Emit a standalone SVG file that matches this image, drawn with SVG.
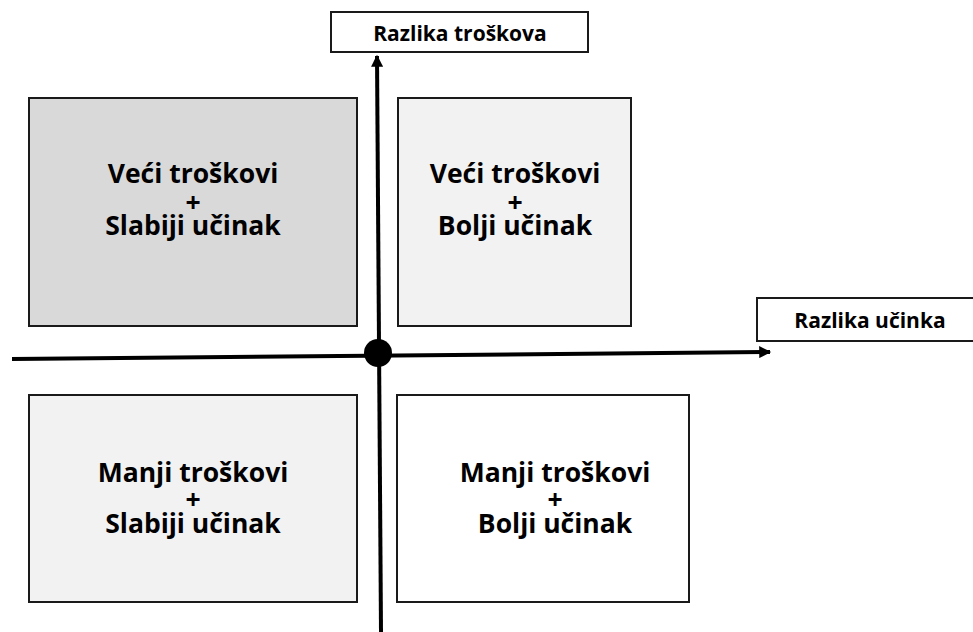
<svg xmlns="http://www.w3.org/2000/svg" width="973" height="632" viewBox="0 0 973 632">
<defs>
<style>
.box{stroke:#1a1a1a;stroke-width:2}
.q{font-family:"Open Sans","Liberation Sans",sans-serif;font-weight:bold;font-size:26.5px;fill:#000;text-anchor:middle}
.lab{font-family:"Open Sans","Liberation Sans",sans-serif;font-weight:bold;font-size:21px;fill:#000;text-anchor:middle}
.axis{stroke:#000;stroke-width:4;fill:none}
</style>
<marker id="ah" viewBox="0 0 10 10" refX="9" refY="5" markerWidth="4.5" markerHeight="3" orient="auto" markerUnits="strokeWidth">
<path d="M0,0 L10,5 L0,10 Z" fill="#000"/>
</marker>
</defs>
<rect width="973" height="632" fill="#fff"/>
<g id="q-top-left">
<rect class="box" x="29" y="98" width="328" height="228" fill="#d9d9d9"/>
<text class="q"><tspan x="193" y="183">Veći troškovi</tspan><tspan x="193" y="212">+</tspan><tspan x="193" y="235">Slabiji učinak</tspan></text>
</g>
<g id="q-top-right">
<rect class="box" x="398" y="98" width="233" height="228" fill="#f2f2f2"/>
<text class="q"><tspan x="515" y="183">Veći troškovi</tspan><tspan x="515" y="212">+</tspan><tspan x="515" y="235">Bolji učinak</tspan></text>
</g>
<g id="q-bottom-left">
<rect class="box" x="29" y="395" width="328" height="207" fill="#f2f2f2"/>
<text class="q"><tspan x="193" y="482">Manji troškovi</tspan><tspan x="193" y="509">+</tspan><tspan x="193" y="533">Slabiji učinak</tspan></text>
</g>
<g id="q-bottom-right">
<rect class="box" x="397" y="395" width="292" height="207" fill="#fff"/>
<text class="q"><tspan x="555" y="482">Manji troškovi</tspan><tspan x="555" y="509">+</tspan><tspan x="555" y="533">Bolji učinak</tspan></text>
</g>
<g id="label-cost">
<rect class="box" x="331" y="12" width="257" height="40" fill="#fff"/>
<text class="lab" x="460" y="41">Razlika troškova</text>
</g>
<g id="label-effect">
<rect class="box" x="757" y="298" width="218" height="43" fill="#fff"/>
<text class="lab" x="870" y="328">Razlika učinka</text>
</g>
<g id="connectors">
<line class="axis" x1="381" y1="632" x2="377" y2="56" marker-end="url(#ah)"/>
<line class="axis" x1="12" y1="359" x2="770" y2="352" marker-end="url(#ah)"/>
<circle cx="378" cy="353" r="14" fill="#000"/>
</g>
</svg>
